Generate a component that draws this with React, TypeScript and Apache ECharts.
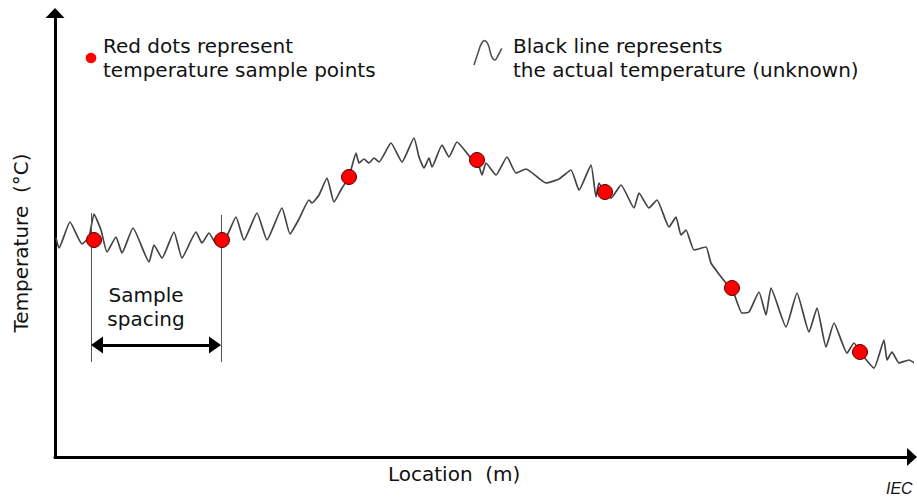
import React, { useEffect, useRef } from "react";
import * as echarts from "echarts";

// Actual (unknown) temperature profile: location (m) and temperature values
const actualLoc = [1,4,15,27,34,39,46,52,61,67,78,94,99,107,119,127,141,147,154,162,171,181,189,202,212,227,235,244,254,257,264,272,279,287,294,301,304,309,314,319,324,336,347,359,364,369,374,377,387,394,402,416,422,427,431,441,452,461,471,491,504,516,524,536,541,544,549,556,566,579,584,594,602,614,621,626,631,639,651,656,671,677,687,694,704,711,716,731,742,754,762,771,779,792,799,805,819,829,832,837,844,854,861];
const actualTemp = [219,209,235,213,220,243,227,205,220,204,229,195,212,199,225,199,225,214,224,212,219,240,217,244,217,249,223,238,257,254,262,279,255,269,280,304,294,298,294,299,295,314,295,319,300,289,299,290,312,300,315,299,297,282,294,282,300,284,288,274,278,287,267,292,260,274,265,259,272,249,264,249,257,230,240,222,227,207,210,194,174,169,144,145,165,142,169,130,164,125,149,110,134,104,114,105,89,117,97,105,94,97,93];

// Temperature sample points
const sampleLoc = [39, 167, 294, 422, 550, 677, 805];
const sampleTemp = [217, 217, 280, 297, 265, 169, 105];

// Sample spacing annotation (between first two samples)
const spacingStart = 36;
const spacingEnd = 166;
const spacingTop = [244, 242];
const spacingBottom = 95;
const spacingArrowTemp = 112;
const spacingLabelPos = [91, 150];

const FONT = "'DejaVu Sans', 'Liberation Sans', sans-serif";

export default function App() {
  const ref = useRef<HTMLDivElement>(null);
  useEffect(() => {
    if (!ref.current) return;
    const chart = echarts.init(ref.current, null, { renderer: "svg" });
    const lineData = actualLoc.map((x, i) => [x, actualTemp[i]]);
    const dotData = sampleLoc.map((x, i) => [x, sampleTemp[i]]);
    const option: any = {
      animation: false,
      backgroundColor: "#fff",
      grid: { left: 55, top: 13, width: 857, height: 444 },
      xAxis: {
        type: "value",
        min: 0,
        max: 857,
        axisLine: {
          show: true,
          onZero: false,
          lineStyle: { color: "#000", width: 3 },
          symbol: ["none", "triangle"],
          symbolSize: [18, 10],
        },
        axisTick: { show: false },
        axisLabel: { show: false },
        splitLine: { show: false },
      },
      yAxis: {
        type: "value",
        min: 0,
        max: 444,
        axisLine: {
          show: true,
          onZero: false,
          lineStyle: { color: "#000", width: 3 },
          symbol: ["none", "triangle"],
          symbolSize: [19, 10],
        },
        axisTick: { show: false },
        axisLabel: { show: false },
        splitLine: { show: false },
      },
      series: [
        {
          name: "Actual temperature",
          type: "line",
          data: lineData,
          showSymbol: false,
          symbol: "none",
          smooth: 0.15,
          clip: false,
          lineStyle: { color: "#444", width: 1.7 },
          z: 2,
        },
        {
          name: "Spacing lines",
          type: "line",
          data: [],
          markLine: {
            silent: true,
            symbol: "none",
            label: { show: false },
            lineStyle: { color: "#555", width: 1, type: "solid" },
            data: [
              [{ coord: [spacingStart, spacingTop[0]] }, { coord: [spacingStart, spacingBottom] }],
              [{ coord: [spacingEnd, spacingTop[1]] }, { coord: [spacingEnd, spacingBottom] }],
            ],
          },
        },
        {
          name: "Spacing arrow",
          type: "line",
          data: [],
          markLine: {
            silent: true,
            symbol: ["triangle", "triangle"],
            symbolSize: [17, 12],
            label: { show: false },
            lineStyle: { color: "#000", width: 3, type: "solid" },
            data: [
              [{ coord: [spacingStart + 6, spacingArrowTemp] }, { coord: [spacingEnd - 6, spacingArrowTemp] }],
            ],
          },
        },
        {
          name: "Spacing label",
          type: "scatter",
          data: [spacingLabelPos],
          symbolSize: 1,
          itemStyle: { color: "#fff", opacity: 0 },
          silent: true,
          label: {
            show: true,
            position: "inside",
            formatter: "Sample\nspacing",
            fontFamily: FONT,
            fontSize: 20,
            lineHeight: 24,
            color: "#111",
            opacity: 1,
            textBorderWidth: 0,
            align: "center",
            verticalAlign: "middle",
          },
        },
        {
          name: "Temperature samples",
          type: "scatter",
          data: dotData,
          symbolSize: 15,
          itemStyle: { color: "#ff0000", borderColor: "#5a0000", borderWidth: 1, opacity: 1 },
          z: 5,
        },
      ],
      graphic: [
        { type: "circle", shape: { cx: 91, cy: 58, r: 5.3 }, style: { fill: "#ff0000" } },
        { type: "text", x: 103, y: 46, style: { text: "Red dots represent", font: `20px ${FONT}`, fill: "#111", align: "left", verticalAlign: "middle" } },
        { type: "text", x: 103, y: 70, style: { text: "temperature sample points", font: `20px ${FONT}`, fill: "#111", align: "left", verticalAlign: "middle" } },
        {
          type: "polyline",
          shape: {
            points: [[474, 65], [478, 53], [481.5, 43.5], [485, 40.7], [488.3, 45], [491.7, 56.7], [495, 60], [498.3, 55], [501.7, 48.3]],
            smooth: 0.4,
          },
          style: { stroke: "#555", lineWidth: 1.6, fill: null },
        },
        { type: "text", x: 513, y: 46, style: { text: "Black line represents", font: `20px ${FONT}`, fill: "#111", align: "left", verticalAlign: "middle" } },
        { type: "text", x: 513, y: 70, style: { text: "the actual temperature (unknown)", font: `20px ${FONT}`, fill: "#111", align: "left", verticalAlign: "middle" } },
        { type: "text", x: 388, y: 474, style: { text: "Location  (m)", font: `20px ${FONT}`, fill: "#111", align: "left", verticalAlign: "middle" } },
        { type: "text", x: 21, y: 243, rotation: Math.PI / 2, style: { text: "Temperature  (°C)", font: `20px ${FONT}`, fill: "#111", align: "center", verticalAlign: "middle" } },
        { type: "text", x: 886, y: 488, style: { text: "IEC", font: `italic 16px 'Liberation Sans', Arial, sans-serif`, fill: "#111", align: "left", verticalAlign: "middle" } },
      ],
    };
    chart.setOption(option);
    return () => chart.dispose();
  }, []);
  return <div ref={ref} style={{ width: 917, height: 499, position: "absolute", left: 0, top: 0 }} />;
}
